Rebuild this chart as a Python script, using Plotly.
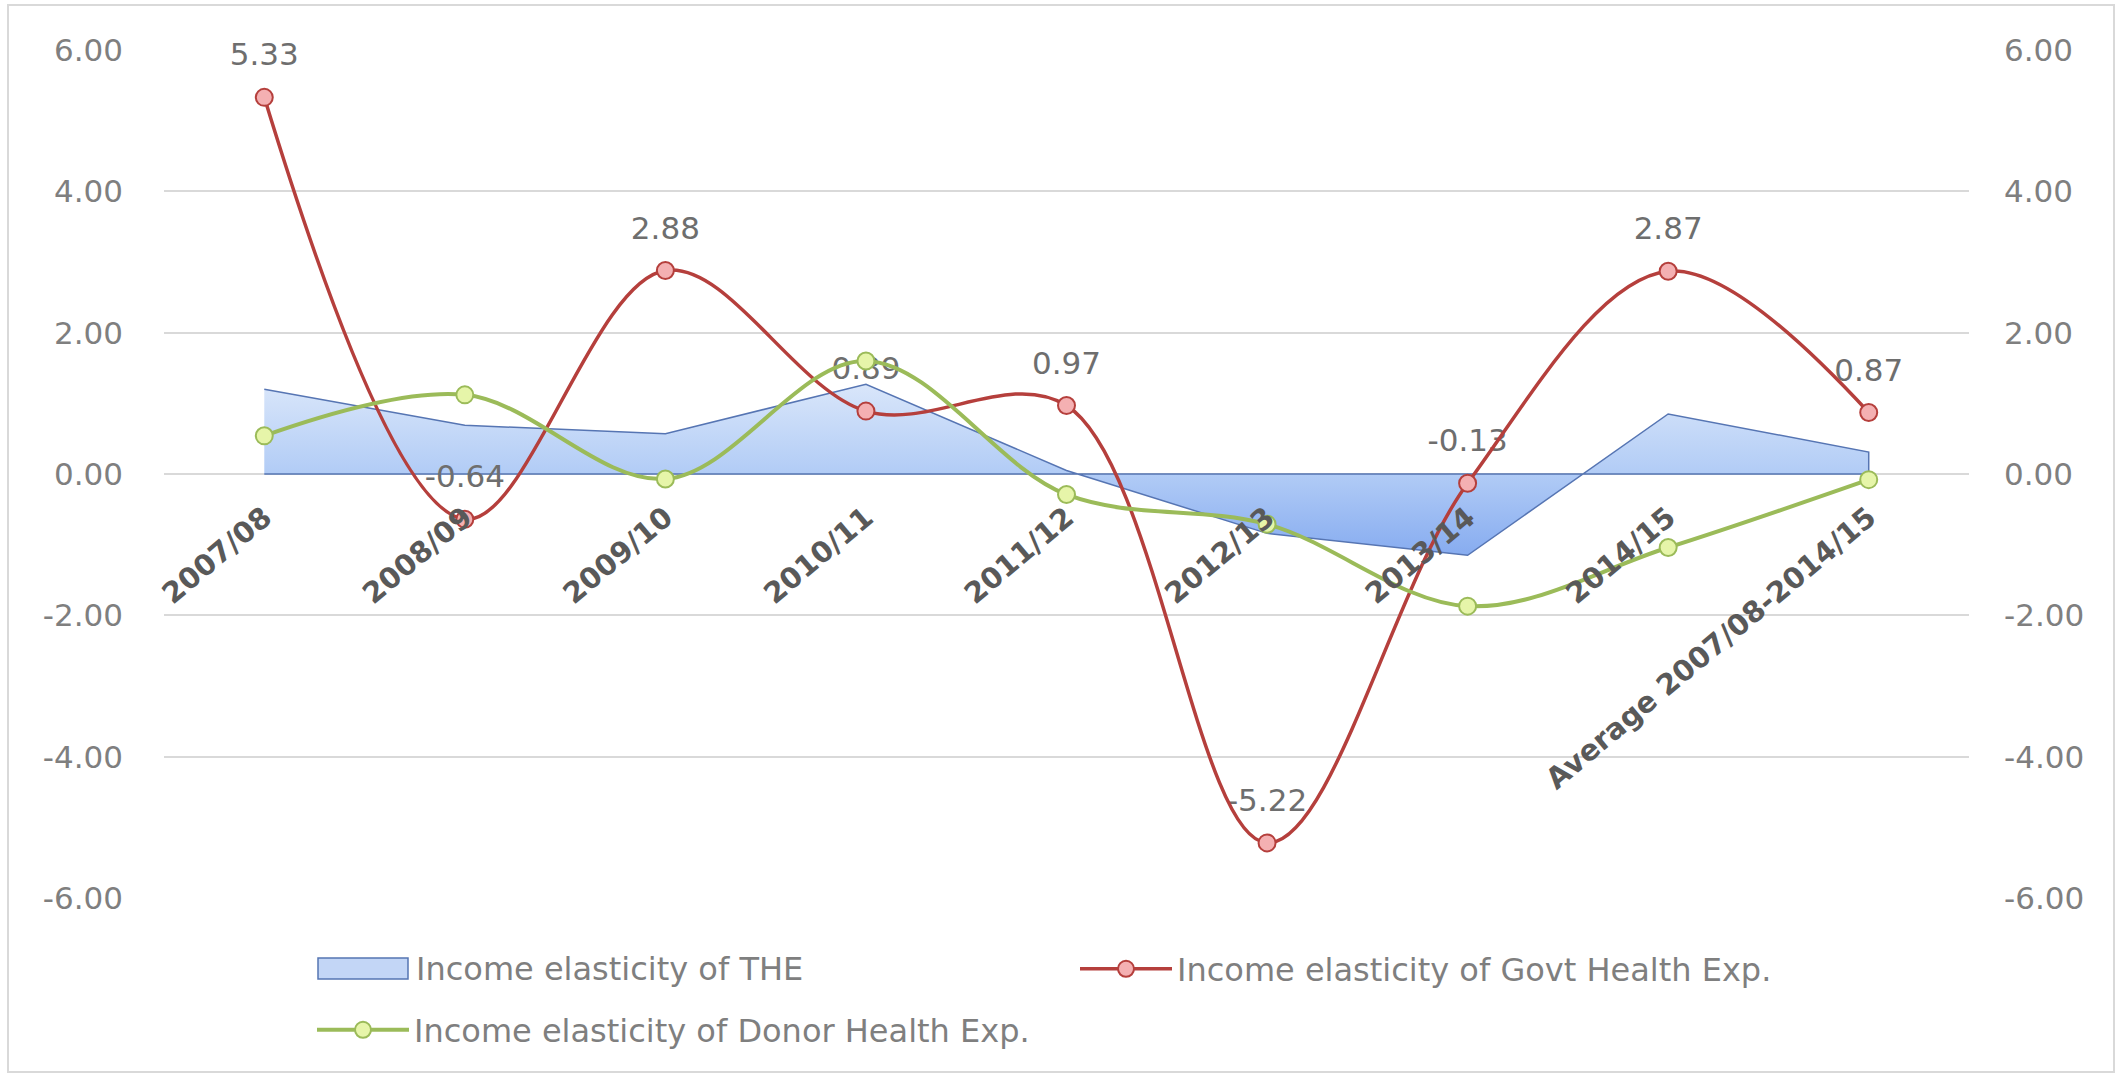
import plotly.graph_objects as go

# Income elasticities by fiscal year
categories = ["2007/08", "2008/09", "2009/10", "2010/11", "2011/12",
              "2012/13", "2013/14", "2014/15", "Average 2007/08-2014/15"]
the_elasticity = [1.20, 0.69, 0.57, 1.27, 0.05, -0.84, -1.15, 0.85, 0.31]
govt_elasticity = [5.33, -0.64, 2.88, 0.89, 0.97, -5.22, -0.13, 2.87, 0.87]
donor_elasticity = [0.54, 1.12, -0.07, 1.60, -0.29, -0.71, -1.87, -1.04, -0.08]

y_tick_values = [6, 4, 2, 0, -2, -4, -6]
y_tick_labels = ["6.00", "4.00", "2.00", "0.00", "-2.00", "-4.00", "-6.00"]

THE_NAME = "Income elasticity of THE"
GOVT_NAME = "Income elasticity of Govt Health Exp."
DONOR_NAME = "Income elasticity of Donor Health Exp."

W, H = 2120, 1076
M_L, M_R, M_T, M_B = 164, 151, 50, 178
PW, PH = W - M_L - M_R, H - M_T - M_B


def px_x(p):
    return (p - M_L) / PW


def px_y(p):
    return (H - M_B - p) / PH


FONT = "DejaVu Sans"
GRAY = "#7f7f7f"
TEXT_SIZE = 31
LEGEND_SIZE = 32
THE_FILL = "#c3d6f6"
THE_LINE = "#5675b3"

fig = go.Figure()

# THE as a closed area down to zero, with a vertical gradient fill
fig.add_trace(go.Scatter(
    x=categories + [categories[-1], categories[0]],
    y=the_elasticity + [0, 0],
    mode="lines",
    fill="toself",
    fillgradient=dict(type="vertical",
                      colorscale=[[0, "#87acf0"], [0.5, "#b3cdf6"], [1, "#d9e6fa"]]),
    line=dict(color=THE_LINE, width=1.5),
    name=THE_NAME,
    showlegend=False,
    hoverinfo="skip",
))

# value labels for the government series (placed under the line itself)
fig.add_trace(go.Scatter(
    x=categories,
    y=govt_elasticity,
    mode="markers+text",
    text=[f"{v:.2f}" for v in govt_elasticity],
    textposition="top center",
    textfont=dict(family=FONT, size=TEXT_SIZE, color="#6e6e6e"),
    marker=dict(size=37, color="rgba(0,0,0,0)"),
    cliponaxis=False,
    showlegend=False,
    hoverinfo="skip",
))

fig.add_trace(go.Scatter(
    x=categories,
    y=govt_elasticity,
    mode="lines+markers",
    line=dict(color="#b53f3c", width=3.5, shape="spline", smoothing=1),
    marker=dict(size=17, color="#f4b0b2", line=dict(color="#b53f3c", width=2)),
    name=GOVT_NAME,
    legend="legend",
    cliponaxis=False,
))

fig.add_trace(go.Scatter(
    x=categories,
    y=donor_elasticity,
    mode="lines+markers",
    line=dict(color="#9bbb59", width=4, shape="spline", smoothing=1),
    marker=dict(size=17, color="#e6f5a9", line=dict(color="#9bbb59", width=2)),
    name=DONOR_NAME,
    legend="legend2",
    cliponaxis=False,
))

# right-hand axis mirrors the left one
fig.add_trace(go.Scatter(
    x=[categories[0]], y=[0], yaxis="y2", mode="markers",
    marker=dict(size=1, color="rgba(0,0,0,0)"),
    showlegend=False, hoverinfo="skip",
))

axis_font = dict(family=FONT, size=TEXT_SIZE, color=GRAY)
legend_font = dict(family=FONT, size=LEGEND_SIZE, color=GRAY)

fig.update_layout(
    width=W, height=H,
    margin=dict(l=M_L, r=M_R, t=M_T, b=M_B, autoexpand=False),
    paper_bgcolor="white",
    plot_bgcolor="white",
    xaxis=dict(
        type="category",
        range=[-0.5, len(categories) - 0.5],
        anchor="free",
        position=0.5,
        showgrid=False,
        showline=False,
        zeroline=False,
        ticks="",
        tickangle=-40,
        ticklabelstandoff=20,
        tickfont=dict(family=FONT, size=29, color="#595959", weight="bold"),
    ),
    yaxis=dict(
        range=[-6, 6],
        tickvals=y_tick_values,
        ticktext=y_tick_labels,
        showgrid=True,
        gridcolor="#d9d9d9",
        gridwidth=1.5,
        zeroline=False,
        showline=False,
        ticks="",
        ticklabelstandoff=40,
        tickfont=axis_font,
    ),
    yaxis2=dict(
        range=[-6, 6],
        overlaying="y",
        side="right",
        tickvals=y_tick_values,
        ticktext=y_tick_labels,
        showgrid=False,
        zeroline=False,
        showline=False,
        ticks="",
        ticklabelstandoff=34,
        tickfont=axis_font,
    ),
    legend=dict(
        orientation="h",
        x=px_x(1075), xanchor="left",
        y=px_y(969), yanchor="middle",
        itemwidth=92,
        font=legend_font,
        bgcolor="rgba(0,0,0,0)",
    ),
    legend2=dict(
        orientation="h",
        x=px_x(312), xanchor="left",
        y=px_y(1030), yanchor="middle",
        itemwidth=92,
        font=legend_font,
        bgcolor="rgba(0,0,0,0)",
    ),
    shapes=[
        # chart frame
        dict(type="rect", xref="paper", yref="paper",
             x0=px_x(8), x1=px_x(2114), y0=px_y(1072), y1=px_y(5),
             line=dict(color="#d9d9d9", width=2),
             fillcolor="rgba(0,0,0,0)", layer="below"),
        # area swatch for the THE key
        dict(type="rect", xref="paper", yref="paper",
             x0=px_x(318), x1=px_x(408), y0=px_y(979), y1=px_y(958),
             line=dict(color=THE_LINE, width=1.5),
             fillcolor=THE_FILL, layer="above"),
    ],
    annotations=[
        dict(text=THE_NAME, xref="paper", yref="paper",
             x=px_x(414), y=px_y(969), xanchor="left", yanchor="middle",
             showarrow=False, font=legend_font),
    ],
)

fig.write_html("out.html")
